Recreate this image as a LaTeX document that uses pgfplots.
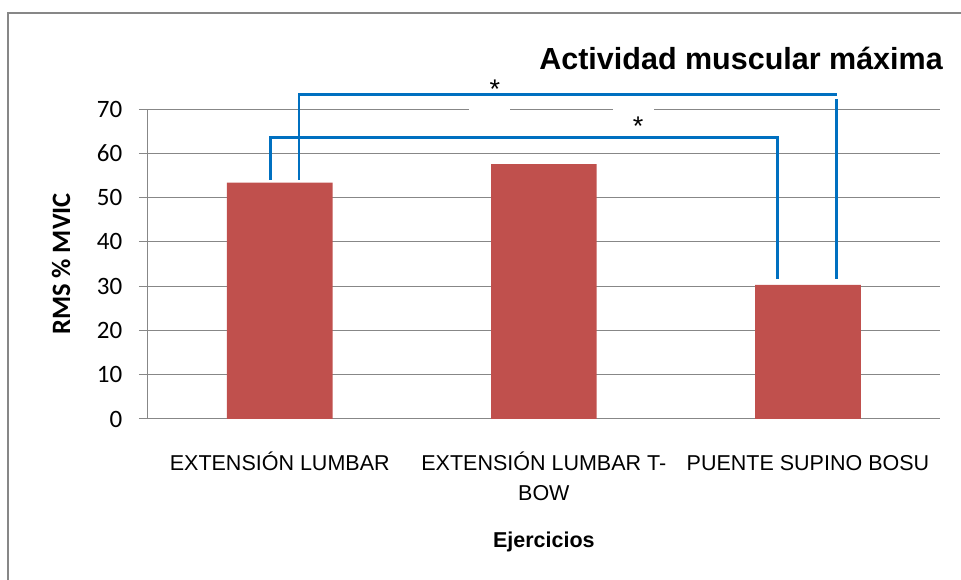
\documentclass[border=0pt]{standalone}
\usepackage{pgfplots}
\pgfplotsset{compat=1.18}
\usepackage{fontspec}
\setmainfont{Liberation Sans}
\newfontfamily\calibri{Carlito}
\definecolor{barred}{HTML}{C0504D}
\definecolor{brblue}{HTML}{0070C0}
\definecolor{gridgray}{HTML}{878787}
\begin{document}
\begin{tikzpicture}[x=1bp,y=1bp]
\begin{axis}[
  at={(0,0)}, anchor=south west,
  scale only axis,
  width=792.3bp, height=310bp,
  xmin=-0.5, xmax=2.5,
  ymin=0, ymax=70,
  clip=false,
  axis lines*=left,
  axis line style={draw=gridgray, line width=1bp},
  xtick={0,1,2},
  xticklabels={{\strut EXTENSIÓN LUMBAR},{\strut EXTENSIÓN LUMBAR T-\\BOW},{\strut PUENTE SUPINO BOSU}},
  x tick style={draw=none},
  xticklabel style={font=\fontsize{21.5bp}{30bp}\selectfont, align=center, anchor=north, inner sep=0pt, yshift=-21.5bp},
  ytick={0,10,...,70},
  tick align=outside,
  y tick style={draw=gridgray, line width=1bp},
  major tick length=8.7bp,
  yticklabel style={font=\calibri\fontsize{25bp}{30bp}\selectfont, anchor=east, inner sep=0pt, xshift=-16.5bp},
  /pgf/number format/assume math mode=true,
  ymajorgrids,
  grid style={draw=gridgray, line width=1bp},
  xlabel={Ejercicios},
  xlabel style={font=\bfseries\fontsize{21.5bp}{26bp}\selectfont, at={(axis description cs:0.5,-0.4139)}, anchor=base, inner sep=0pt},
  ylabel={RMS \% MVIC},
  ylabel style={font=\calibri\bfseries\fontsize{26.5bp}{30bp}\selectfont, at={(axis description cs:-0.1094,0.5)}, anchor=center, inner sep=0pt},
]
\addplot[ybar, bar width=0.4, bar shift=0pt, fill=barred, draw=none] coordinates {(0,53.36) (1,57.58) (2,30.26)};
% significance brackets
\addplot[brblue, line width=2.8bp, line join=miter, mark=none] coordinates {(-0.034,54) (-0.034,63.6) (1.884,63.6) (1.884,31.6)};
\addplot[brblue, line width=2.8bp, line join=miter, mark=none] coordinates {(0.073,54) (0.073,73.2) (2.109,73.2)};
\addplot[brblue, line width=2.8bp, mark=none] coordinates {(2.109,72.3) (2.109,31.6)};
\fill[white] (axis cs:0.7166,69.6) rectangle (axis cs:0.8718,72.4);
\fill[white] (axis cs:1.262,64.05) rectangle (axis cs:1.417,70.5);
\node[anchor=north, inner sep=0pt, font=\fontsize{27bp}{30bp}\selectfont] at (axis cs:0.815,76.7) {*};
\node[anchor=north, inner sep=0pt, font=\fontsize{27bp}{30bp}\selectfont] at (axis cs:1.357,68.26) {*};
\end{axis}
\node[anchor=base east, inner sep=0pt, font=\bfseries\fontsize{30.5bp}{36bp}\selectfont] at (795.3,349.7) {Actividad muscular máxima};
\draw[gridgray, line width=1.7bp] (-139.4,-200) -- (-139.4,406.3) -- (900,406.3);
\pgfresetboundingbox
\useasboundingbox (-147.7,-161) rectangle (813.3,419);
\end{tikzpicture}
\end{document}
